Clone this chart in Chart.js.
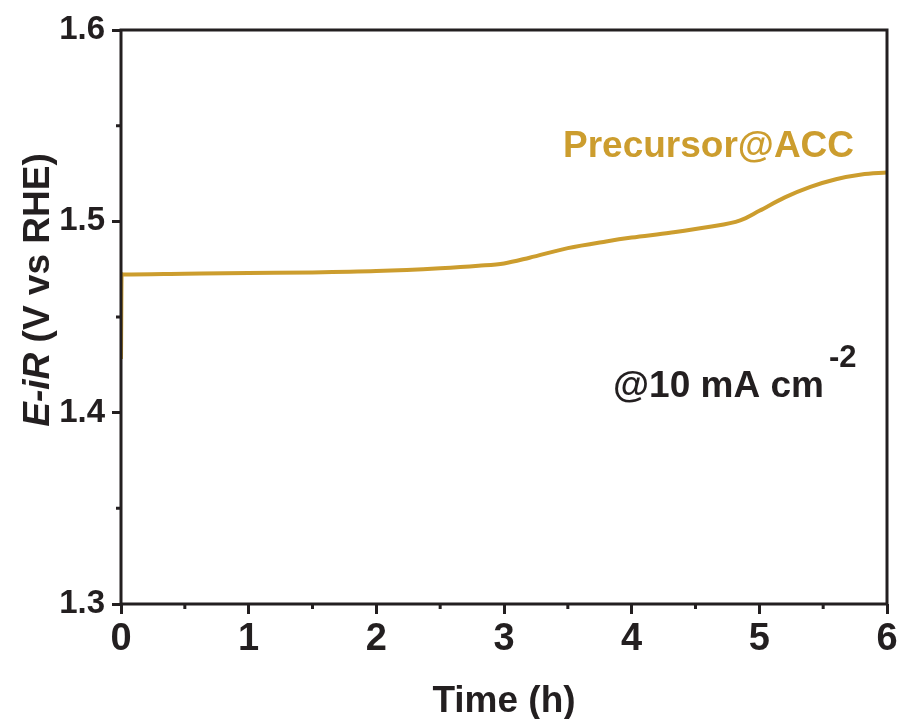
<!DOCTYPE html>
<html>
<head>
<meta charset="utf-8">
<script src="https://cdn.jsdelivr.net/npm/chart.js@4"></script>
<style>
html,body{margin:0;padding:0;background:#fff;}
#wrap{width:901px;height:719px;}
</style>
</head>
<body>
<div id="wrap"><canvas id="chart" width="901" height="719"></canvas></div>
<script>
// time in hours, potential in V vs RHE
const times = [0, 0.005, 0.02, 0.5, 1, 1.5, 2, 2.5, 2.8, 3.0, 3.2, 3.5, 3.8, 4.0, 4.3, 4.6, 4.85, 5.0, 5.2, 5.4, 5.6, 5.8, 6.0];
const potentials = [1.428, 1.4725, 1.4722, 1.4726, 1.473, 1.4733, 1.474, 1.4755, 1.4768, 1.478, 1.481, 1.486, 1.4895, 1.4915, 1.494, 1.497, 1.5005, 1.5055, 1.5125, 1.518, 1.522, 1.5245, 1.5255];
const seriesName = "Precursor@ACC";
const xTicks = [0, 1, 2, 3, 4, 5, 6];
const yTicks = [1.3, 1.4, 1.5, 1.6];

const gold = "#CC9D2E";
const ink = "#231f20";

let points = times.map((t, i) => ({x: t, y: potentials[i]}));

// frame, minor ticks, axis titles, annotations
const extras = {
id: "extras",
afterDraw(chart){
const ctx = chart.ctx;
const a = chart.chartArea;
const xs = chart.scales.x;
const ys = chart.scales.y;

ctx.save();
ctx.strokeStyle = ink;
ctx.lineWidth = 3;
ctx.strokeRect(a.left, a.top, a.right - a.left, a.bottom - a.top);

// minor ticks
ctx.beginPath();
for(let v = 0.5; v < 6; v += 1){
let px = xs.getPixelForValue(v);
ctx.moveTo(px, a.bottom);
ctx.lineTo(px, a.bottom + 5);
}
for(let v = 1.35; v < 1.6; v += 0.1){
let py = ys.getPixelForValue(v);
ctx.moveTo(a.left, py);
ctx.lineTo(a.left - 5, py);
}
ctx.stroke();

// x title
ctx.fillStyle = ink;
ctx.textAlign = "center";
ctx.textBaseline = "alphabetic";
ctx.font = "bold 37px 'Liberation Sans', Arial, sans-serif";
ctx.fillText("Time (h)", (a.left + a.right) / 2, 712);

// y title, mixed italic
ctx.save();
ctx.translate(49, 290);
ctx.rotate(-Math.PI / 2);
const f1 = "italic bold 37px 'Liberation Sans', Arial, sans-serif";
const f2 = "bold 37px 'Liberation Sans', Arial, sans-serif";
const s1 = "E-iR", s2 = " (V vs RHE)";
ctx.font = f1; let w1 = ctx.measureText(s1).width;
ctx.font = f2; let w2 = ctx.measureText(s2).width;
let start = -(w1 + w2) / 2;
ctx.textAlign = "left";
ctx.font = f1; ctx.fillText(s1, start, 0);
ctx.font = f2; ctx.fillText(s2, start + w1, 0);
ctx.restore();

// series label
ctx.textAlign = "left";
ctx.fillStyle = gold;
ctx.font = "bold 37px 'Liberation Sans', Arial, sans-serif";
ctx.fillText(seriesName, 563, 157);

ctx.fillStyle = ink;
ctx.font = "bold 37px 'Liberation Sans', Arial, sans-serif";
ctx.fillText("@10 mA cm", 613, 397);
ctx.font = "bold 31px 'Liberation Sans', Arial, sans-serif";
ctx.fillText("-2", 829, 367);
ctx.restore();
}
};

chart = new Chart(document.getElementById("chart"), {
type: "line",
data: {
datasets: [{
label: seriesName,
data: points,
borderColor: gold,
borderWidth: 4,
pointRadius: 0,
cubicInterpolationMode: "monotone",
fill: false
}]
},
options: {
responsive: false,
animation: false,
layout: {padding: {top: 30, right: 14, left: 0, bottom: 0}},
plugins: {legend: {display: false}, tooltip: {enabled: false}},
scales: {
x: {
type: "linear",
min: 0, max: 6,
afterFit(s){ s.height = 115; },
afterBuildTicks(s){ s.ticks = xTicks.map(v => ({value: v})); },
grid: {drawOnChartArea: false, tickLength: 10, tickWidth: 3, tickColor: ink, color: ink},
border: {display: false},
ticks: {
color: ink,
padding: 3,
font: {family: "'Liberation Sans', Arial", size: 38, weight: "bold"},
callback: v => v
}
},
y: {
min: 1.3, max: 1.6,
afterFit(s){ s.width = 121; },
afterBuildTicks(s){ s.ticks = yTicks.map(v => ({value: v})); },
grid: {drawOnChartArea: false, tickLength: 9, tickWidth: 3, tickColor: ink, color: ink},
border: {display: false},
ticks: {
color: ink,
padding: 7,
font: {family: "'Liberation Sans', Arial", size: 33, weight: "bold"},
callback: v => v.toFixed(1)
}
}
}
},
plugins: [extras]
});
</script>
</body>
</html>
